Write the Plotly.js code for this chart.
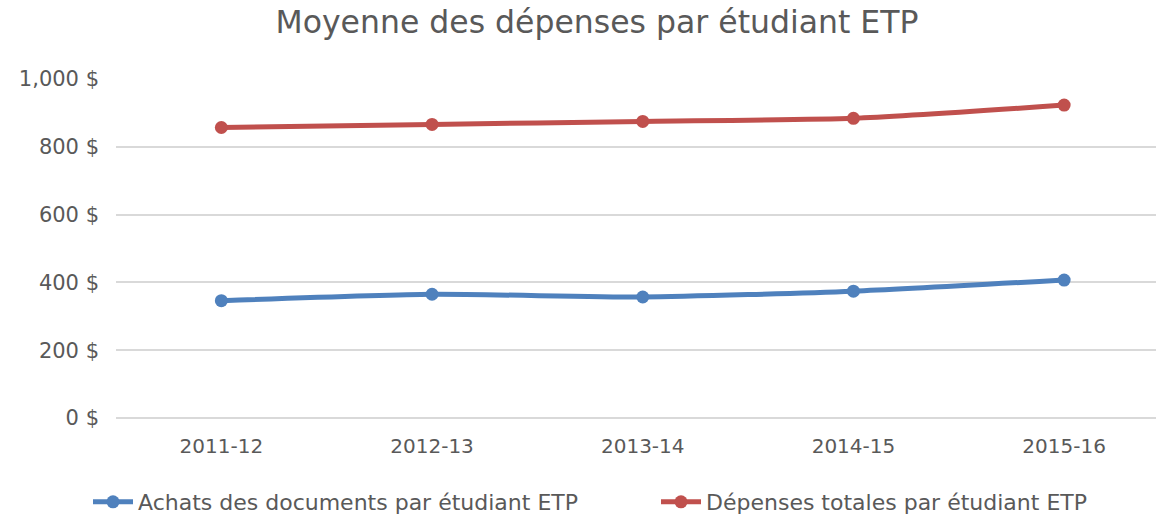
<!DOCTYPE html>
<html>
<head>
<meta charset="utf-8">
<script src="https://cdn.plot.ly/plotly-3.0.1.min.js"></script>
<style>html,body{margin:0;padding:0;background:#fff;}#chart{width:1156px;height:516px;}</style>
</head>
<body>
<div id="chart"></div>
<script>
const categories = ["2011-12", "2012-13", "2013-14", "2014-15", "2015-16"];
const achats = [346, 365, 357, 374, 407];
const depenses = [857, 866, 875, 884, 923];
const seriesNames = ["Achats des documents par étudiant ETP", "Dépenses totales par étudiant ETP"];
const yTickVals = [0, 200, 400, 600, 800, 1000];
const yTickText = ["0 $", "200 $", "400 $", "600 $", "800 $", "1,000 $"];
const chartTitle = "Moyenne des dépenses par étudiant ETP";

const FONT = "DejaVu Sans, sans-serif";
const TXT = "#595959";

const traces = [
  {x: categories, y: achats, name: seriesNames[0], type: "scatter", mode: "lines+markers", legend: "legend",
   line: {color: "#4F81BD", width: 5, shape: "spline", smoothing: 0.6},
   marker: {color: "#4F81BD", size: 13}},
  {x: categories, y: depenses, name: seriesNames[1], type: "scatter", mode: "lines+markers", legend: "legend2",
   line: {color: "#C0504D", width: 5, shape: "spline", smoothing: 0.6},
   marker: {color: "#C0504D", size: 13}}
];

const legendFont = {family: FONT, size: 22, color: TXT};

const layout = {
  width: 1156, height: 516,
  margin: {l: 116, r: 0, t: 79, b: 98},
  paper_bgcolor: "#fff", plot_bgcolor: "#fff",
  font: {family: FONT, color: TXT, size: 20},
  title: {text: chartTitle, font: {family: FONT, size: 31.5, color: TXT}, x: 597 / 1156, xref: "container", xanchor: "center", y: 0.957, yanchor: "middle"},
  xaxis: {type: "category", range: [-0.5, 4.436], showgrid: false, zeroline: false, showline: false,
          ticks: "", tickfont: {size: 20, color: TXT}, ticklabelstandoff: 14, fixedrange: true},
  yaxis: {range: [0, 1000], tickvals: yTickVals, ticktext: yTickText, showgrid: true, gridcolor: "#D9D9D9", gridwidth: 2,
          zeroline: true, zerolinecolor: "#D9D9D9", zerolinewidth: 2, showline: false, ticks: "",
          tickfont: {size: 21, color: TXT}, ticklabelstandoff: 16, fixedrange: true},
  showlegend: true,
  legend: {orientation: "h", x: 88 / 1156, xref: "container", xanchor: "left", y: 0.027, yref: "container", yanchor: "middle",
           font: legendFont, itemwidth: 40},
  legend2: {orientation: "h", x: 656 / 1156, xref: "container", xanchor: "left", y: 0.027, yref: "container", yanchor: "middle",
           font: legendFont, itemwidth: 40}
};

Plotly.newPlot("chart", traces, layout, {displayModeBar: false, staticPlot: true});
</script>
</body>
</html>
